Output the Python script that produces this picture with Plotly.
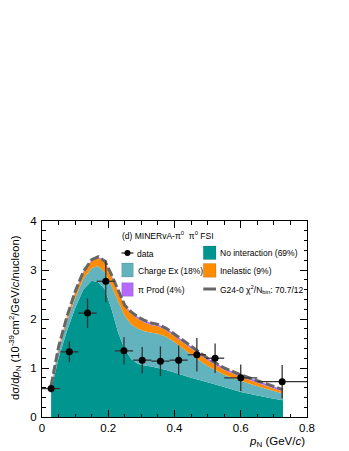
import numpy as np
import plotly.graph_objects as go

# ---------------- data ----------------
# model x grid (GeV/c)
p_model = [0.0275, 0.05, 0.075, 0.1, 0.125, 0.15, 0.17, 0.19, 0.21, 0.23, 0.25, 0.27,
           0.29, 0.31, 0.33, 0.35, 0.375, 0.4, 0.45, 0.5, 0.55, 0.6, 0.65, 0.7, 0.7275]
no_interaction = [0.55, 1.2, 1.75, 2.22, 2.6, 2.78, 2.75, 2.6, 2.2, 1.72, 1.38, 1.18,
                  1.08, 1.05, 1.03, 1.0, 0.96, 0.91, 0.8, 0.71, 0.61, 0.51, 0.44, 0.37, 0.34]
charge_ex = [0.05, 0.15, 0.19, 0.21, 0.22, 0.26, 0.33, 0.35, 0.48, 0.64, 0.68, 0.71,
             0.72, 0.7, 0.69, 0.7, 0.68, 0.62, 0.47, 0.33, 0.25, 0.23, 0.19, 0.16, 0.14]
inelastic = [0.03, 0.06, 0.08, 0.11, 0.13, 0.15, 0.17, 0.21, 0.2, 0.19, 0.2, 0.21,
             0.2, 0.18, 0.16, 0.15, 0.13, 0.12, 0.13, 0.12, 0.1, 0.08, 0.07, 0.05, 0.04]
pi_prod = [0.01, 0.02, 0.02, 0.02, 0.02, 0.02, 0.02, 0.02, 0.02, 0.02, 0.02, 0.04,
           0.04, 0.04, 0.04, 0.04, 0.04, 0.04, 0.04, 0.04, 0.04, 0.04, 0.04, 0.04, 0.04]

# data points
p_data = [0.0275, 0.0825, 0.1375, 0.1925, 0.2475, 0.3025, 0.3575, 0.4125, 0.4675, 0.5225, 0.6, 0.725]
p_halfwidth = [0.0275] * 10 + [0.05, 0.075]
xsec_data = [0.58, 1.33, 2.12, 2.77, 1.35, 1.16, 1.14, 1.16, 1.27, 1.20, 0.80, 0.72]
xsec_err = [0.08, 0.21, 0.30, 0.43, 0.28, 0.27, 0.30, 0.30, 0.34, 0.30, 0.27, 0.34]

x_ticks = [0, 0.2, 0.4, 0.6, 0.8]
x_ticklabels = ["0", "0.2", "0.4", "0.6", "0.8"]
y_ticks = [0, 1, 2, 3, 4]
y_ticklabels = ["0", "1", "2", "3", "4"]

# ---------------- style ----------------
FONT = "Liberation Sans, Arial, Helvetica, sans-serif"
C_NOINT = "#00968F"
C_CHEX = "#62B3BE"
C_INEL = "#FF8C00"
C_PI = "#B469FF"
C_TOT = "#666666"

OFF = 8  # page body margin
W, H = 349, 451
# plot frame in page pixels: x 42..307, y 221..417
L = 42 - OFF
T = 221 - OFF
R = W - (307 - OFF)
B = H - (417 - OFF)
PW, PH = W - L - R, H - T - B

def px(x):
    return (x - OFF - L) / PW

def py(y):
    return (H - B - (y - OFF)) / PH

fig = go.Figure()

layers = [("No interaction", no_interaction, C_NOINT),
          ("Charge Ex", charge_ex, C_CHEX),
          ("Inelastic", inelastic, C_INEL),
          ("pi Prod", pi_prod, C_PI)]
for name, vals, col in layers:
    fig.add_trace(go.Scatter(x=p_model, y=vals, stackgroup="m", mode="none",
                             fillcolor=col, name=name, showlegend=False,
                             hoverinfo="skip"))

total = np.sum([no_interaction, charge_ex, inelastic, pi_prod], axis=0)
fig.add_trace(go.Scatter(x=p_model, y=total, mode="lines",
                         line=dict(color=C_TOT, width=3, dash="9px,3px"),
                         showlegend=False))

fig.add_trace(go.Scatter(
    x=p_data, y=xsec_data, mode="markers",
    marker=dict(color="black", size=7),
    error_x=dict(type="data", array=p_halfwidth, color="#333333", thickness=1.3, width=0),
    error_y=dict(type="data", array=xsec_err, color="#333333", thickness=1.3, width=0),
    showlegend=False))

axis_common = dict(showline=True, linecolor="black", linewidth=1, mirror="ticks",
                   ticks="inside", ticklen=7, tickcolor="black", tickwidth=1,
                   showgrid=False, zeroline=False,
                   tickfont=dict(family=FONT, size=11.5, color="black"))

fig.update_xaxes(range=[0, 0.8], tickvals=x_ticks, ticktext=x_ticklabels,
                 minor=dict(dtick=0.05, ticks="inside", ticklen=3.5, tickcolor="black", showgrid=False),
                 ticklabelstandoff=0, **axis_common)
fig.update_yaxes(range=[0, 4], tickvals=y_ticks, ticktext=y_ticklabels,
                 minor=dict(dtick=0.2, ticks="inside", ticklen=3.5, tickcolor="black", showgrid=False),
                 ticklabelstandoff=2, **axis_common)

shapes = []
ann = []

def label(x, y, text, size=8.5):
    ann.append(dict(xref="paper", yref="paper", x=px(x), y=py(y), text=text,
                    showarrow=False, xanchor="left", yanchor="middle",
                    font=dict(family=FONT, size=size, color="black")))

def box(x0, x1, y0, y1, col):
    shapes.append(dict(type="rect", xref="paper", yref="paper",
                       x0=px(x0), x1=px(x1), y0=py(y1), y1=py(y0),
                       fillcolor=col, line=dict(color="rgba(0,0,0,0.15)", width=0.8)))

label(119.5, 235, "(d) MINERvA-π<sup>0</sup>  π<sup>0</sup> FSI", 8.5)
# data entry
shapes.append(dict(type="line", xref="paper", yref="paper", x0=px(121.5), x1=px(133.5),
                   y0=py(253), y1=py(253), line=dict(color="#333333", width=1.3)))
shapes.append(dict(type="circle", xref="paper", yref="paper", x0=px(124.5), x1=px(130.5),
                   y0=py(256), y1=py(250), fillcolor="black", line=dict(color="black", width=0)))
label(134.5, 253.5, "data")
box(121.7, 133.3, 263, 277, C_CHEX)
label(135.5, 270.5, "Charge Ex (18%)")
box(121.7, 133.3, 282.7, 296.3, C_PI)
label(135.5, 289.5, "π Prod (4%)")
box(203.3, 216, 246, 259.5, C_NOINT)
label(218, 253, "No interaction (69%)")
box(203.3, 216, 263.5, 277.3, C_INEL)
label(218, 270.5, "Inelastic (9%)")
shapes.append(dict(type="line", xref="paper", yref="paper", x0=px(203.3), x1=px(216),
                   y0=py(289), y1=py(289), line=dict(color=C_TOT, width=3)))
label(218, 289.5, "G24-0 χ<sup>2</sup>/N<sub>bin</sub>: 70.7/12")

# axis titles
ann.append(dict(xref="paper", yref="paper", x=px(15), y=py(318),
                text="dσ/d<i>p</i><sub>N</sub> (10<sup>-39</sup>cm<sup>2</sup>/GeV/<i>c</i>/nucleon)",
                textangle=-90, showarrow=False, xanchor="center", yanchor="middle",
                font=dict(family=FONT, size=11.2, color="black")))
ann.append(dict(xref="paper", yref="paper", x=px(307), y=py(441.5),
                text="<i>p</i><sub>N</sub> (GeV/<i>c</i>)",
                showarrow=False, xanchor="right", yanchor="middle",
                font=dict(family=FONT, size=11.5, color="black")))

fig.update_layout(width=W, height=H, margin=dict(l=L, r=R, t=T, b=B),
                  paper_bgcolor="white", plot_bgcolor="white",
                  shapes=shapes, annotations=ann, showlegend=False,
                  font=dict(family=FONT))

fig.write_html("out.html")
